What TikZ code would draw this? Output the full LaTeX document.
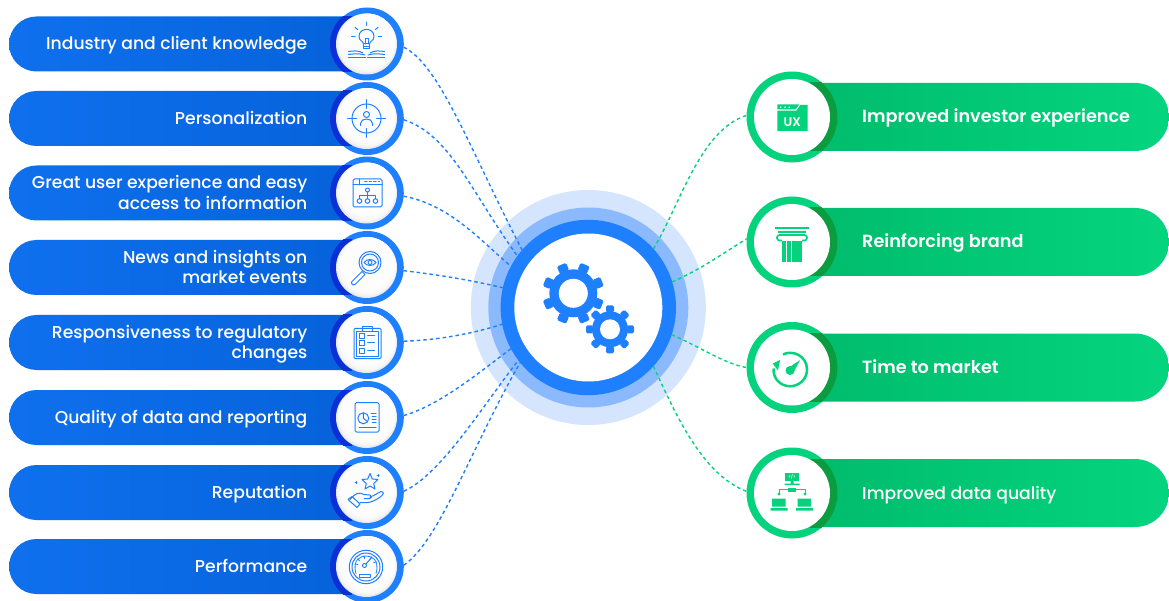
\documentclass[tikz,border=0pt]{standalone}
\usepackage{fontspec}
\setmainfont{Poppins}[UprightFont={* Medium},BoldFont={* SemiBold}]
\definecolor{blu}{HTML}{1F80FF}
\definecolor{dkblu}{HTML}{0A30D8}
\definecolor{pillA}{HTML}{0F70EE}
\definecolor{pillB}{HTML}{0562DA}
\definecolor{grn}{HTML}{04D27C}
\definecolor{dkgrn}{HTML}{0A9C3E}
\definecolor{gpillA}{HTML}{00BC6C}
\definecolor{gpillB}{HTML}{05D47E}
\definecolor{hubA}{HTML}{D4E5FD}
\definecolor{hubB}{HTML}{8ABAFD}
\tikzset{
 x=1pt,y=-1pt,
 ltxt/.style={anchor=east,align=right,inner sep=0pt,text=white,font=\fontsize{17.2}{20.5}\selectfont},
 rtxt/.style={anchor=west,inner sep=0pt,text=white,font=\fontsize{17.65}{20.5}\selectfont\bfseries},
 rtxtm/.style={anchor=west,inner sep=0pt,text=white,font=\fontsize{17.2}{20.5}\selectfont},
 disc/.style={circle,inner sep=0pt,outer sep=0pt,minimum size=#1},
 bdash/.style={draw=blu,line width=1.4pt,dash pattern=on 3.5pt off 3pt},
 gdash/.style={draw=grn,line width=1.4pt,dash pattern=on 3.5pt off 3pt},
 ic/.style={draw=blu,line width=1pt,fill=none,line join=round,line cap=round},
}
\newcommand\lrow[3]{%
 \path[left color=pillA,right color=pillB] (352,#2-27.5) [rounded corners=27.5pt] -- (9,#2-27.5) -- (9,#2+27.5) [sharp corners] -- (352,#2+27.5) -- cycle;
 \node[disc=73pt,fill=blu] (lc#1) at (367.3,#2) {};
 \begin{scope}
  \clip (300,#2-27.5) rectangle (352,#2+27.5);
  \fill[dkblu] (366.5,#2) circle[radius=36.5pt];
 \end{scope}
 \fill[black!9] (366.5,#2) circle[radius=30.5pt];
 \foreach \k in {1,...,10}{
  \fill[white,opacity=.35] ({366.5+0.22*\k},{#2-0.56*\k}) circle[radius={(30.5-0.6*\k)*1pt}];
 }
 \node[ltxt] (lt#1) at (307.5,#2+1.9) {#3};
}
\newcommand\rrow[4]{%
 \path[left color=gpillA,right color=gpillB] (810,#2-34) [sharp corners] -- (810,#2+34) [rounded corners=34pt] -- (1169,#2+34) -- (1169,#2-34) [sharp corners] -- cycle;
 \node[disc=91pt,fill=grn] (rc#1) at (792,#2) {};
 \begin{scope}
  \clip (810,#2-34) rectangle (860,#2+34);
  \fill[dkgrn] (792,#2) circle[radius=45.5pt];
 \end{scope}
 \fill[white] (792,#2) circle[radius=38pt];
 \node[#4] (rt#1) at (862,#2+1.9) {\strut #3};
}
\newcommand\gear[7]{%
 \fill[blu] (#1,#2) circle[radius=#3 pt];
 \foreach \a in {0,45,...,315}{
  \fill[blu,rounded corners=1.5pt,rotate around={\a+#6:(#1,#2)}] ({#1-#7/2},{#2-#3+1}) rectangle ({#1+#7/2},{#2-#4});
 }
 \fill[white] (#1,#2) circle[radius=#5 pt];
}
\begin{document}
\begin{tikzpicture}
\useasboundingbox (0,0) rectangle (1169,601);
\fill[white] (0,0) rectangle (1169,601);
% hub
\node[disc=235pt,fill=hubA] (hubo) at (588.3,307.5) {};
\node[disc=200pt,fill=hubB] (hubm) at (588.3,307.5) {};
\node[disc=175.4pt,fill=blu] (hub) at (588.3,307.5) {};
\node[disc=148pt,fill=white] (hubw) at (588.3,307.5) {};
\gear{573.3}{293.3}{24}{31}{14.5}{22.5}{10}
\gear{610}{329.3}{18}{24}{10}{0}{8}
% left rows
\lrow{1}{44}{\strut Industry and client knowledge}
\lrow{2}{118.5}{\strut Personalization}
\lrow{3}{193}{\strut Great user experience and easy\\\strut access to information}
\lrow{4}{267.5}{\strut News and insights on\\\strut market events}
\lrow{5}{342.5}{\strut Responsiveness to regulatory\\\strut changes}
\lrow{6}{417.5}{\strut Quality of data and reporting}
\lrow{7}{492.5}{\strut Reputation}
\lrow{8}{566.5}{\strut Performance}
% right rows
\rrow{1}{117}{Improved investor experience}{rtxt}
\rrow{2}{242}{Reinforcing brand}{rtxt}
\rrow{3}{367.5}{Time to market}{rtxt}
\rrow{4}{493}{Improved data quality}{rtxtm}
% connectors
\draw[bdash] (lc1.-5) .. controls (440,65) and (470,150) .. (hub.139);
\draw[bdash] (lc2.-2) .. controls (450,135) and (470,190) .. (hub.144);
\draw[bdash] (lc3.-5) .. controls (450,205) and (480,240) .. (hub.152);
\draw[bdash] (lc4.-5) .. controls (440,275) and (470,280) .. (hub.167);
\draw[bdash] (lc5.2) .. controls (440,340) and (475,333) .. (hub.191);
\draw[bdash] (lc6.3) .. controls (440,405) and (480,372) .. (hub.208);
\draw[bdash] (lc7.2) .. controls (440,475) and (480,410) .. (hub.217);
\draw[bdash] (lc8.2) .. controls (440,540) and (470,450) .. (hub.219);
\draw[gdash] (hub.42) .. controls (680,205) and (700,130) .. (rc1.178);
\draw[gdash] (hub.17) .. controls (700,270) and (725,252) .. (rc2.176);
\draw[gdash] (hub.-18) .. controls (700,347) and (725,364) .. (rc3.180);
\draw[gdash] (hub.-42) .. controls (680,425) and (705,475) .. (rc4.178);
% icon 1: bulb and book
\begin{scope}[shift={(366.5,44)}]
 \draw[ic] (-3,0) .. controls (-3,-3) and (-7.5,-3) .. (-7.5,-7.5) .. controls (-7.5,-17) and (7.5,-17) .. (7.5,-7.5) .. controls (7.5,-3) and (3,-3) .. (3,0);
 \draw[ic] (-3,0) rectangle (3,5);
 \draw[ic] (-3,2.5) -- (3,2.5);
 \draw[ic] (-1.5,0) -- (-1.5,-5) -- (1.5,-5) -- (1.5,0);
 \foreach \a in {0,40,90,140,180}{\draw[ic] ({11.5*cos(\a)},{-7-11.5*sin(\a)}) -- ({15*cos(\a)},{-7-15*sin(\a)});}
 \foreach \s in {-1,1}{
  \draw[ic] (\s*3.5,9) .. controls (\s*8,6) and (\s*14,7) .. (\s*18,7.5);
  \draw[ic] (\s*1.5,11) .. controls (\s*8,9) and (\s*14,10) .. (\s*18,10.5);
  \draw[ic] (\s*1,14) -- (\s*18,14);
 }
\end{scope}
% icon 2: target
\begin{scope}[shift={(366.5,118.5)}]
 \draw[ic] (0,0) circle[radius=14.5pt];
 \draw[ic] (0,-19) -- (0,-10) (0,10) -- (0,19) (-19,0) -- (-10,0) (10,0) -- (19,0);
 \draw[ic] (0,-4) circle[radius=3pt];
 \draw[ic] (-6,7) -- (-6,5) .. controls (-6,-1) and (6,-1) .. (6,5) -- (6,7);
\end{scope}
% icon 3: window
\begin{scope}[shift={(367.5,193)}]
 \draw[ic,rounded corners=1.5pt] (-14.5,-14) rectangle (14.5,14);
 \draw[ic] (-14.5,-8) -- (14.5,-8) (-8.5,-14) -- (-8.5,-8);
 \draw[ic,dash pattern=on 2.5pt off 2pt] (-3,-11) -- (12,-11);
 \draw[ic] (0,-3) circle[radius=2pt] (-8,8) circle[radius=2.3pt] (0,8) circle[radius=2.3pt] (8,8) circle[radius=2.3pt];
 \draw[ic] (0,-1) -- (0,5.7) (-8,5.7) -- (-8,2.5) -- (8,2.5) -- (8,5.7);
\end{scope}
% icon 4: magnifier
\begin{scope}[shift={(367,267.5)}]
 \draw[ic] (3,-5) circle[radius=11pt] (3,-5) circle[radius=8.5pt];
 \draw[ic] (-3,-5) .. controls (0,-9) and (6,-9) .. (9,-5) .. controls (6,-1) and (0,-1) .. (-3,-5);
 \draw[ic] (3,-5) circle[radius=2pt];
 \draw[ic] (-5,4) -- (-2,7) -- (-12,17) .. controls (-14,18.5) and (-17,15.5) .. (-15,14) -- cycle;
\end{scope}
% icon 5: clipboard
\begin{scope}[shift={(367.5,342.5)}]
 \draw[ic,rounded corners=1pt] (-13.5,-14) rectangle (13.5,16);
 \draw[ic] (-11,-11) rectangle (11,13.5);
 \draw[ic] (-5,-11) rectangle (5,-16);
 \foreach \y in {-7,0,8}{
  \draw[ic] (-8,\y-2.5) rectangle (-3,\y+2.5);
  \draw[ic] (0,\y) -- (7,\y);
 }
\end{scope}
% icon 6: report
\begin{scope}[shift={(367,417.5)}]
 \draw[ic,rounded corners=1.5pt] (-12,-15) rectangle (12,14.5);
 \draw[ic] (-3.7,0.8) circle[radius=5.5pt];
 \draw[ic] (-3.7,0.8) -- (-3.7,-4.7) (-3.7,0.8) -- (0.5,4);
 \draw[ic] (4,-4) -- (9,-4) (5,-1) -- (9,-1) (5,2) -- (9,2) (5,5) -- (9,5) (-8,9.5) -- (9,9.5);
\end{scope}
% icon 7: hand and star
\begin{scope}[shift={(367,492.5)}]
 \draw[ic] (3,-19) -- (5.3,-13.5) -- (11,-13) -- (6.7,-9) -- (8,-3.5) -- (3,-6.5) -- (-2,-3.5) -- (-0.7,-9) -- (-5,-13) -- (0.7,-13.5) -- cycle;
 \draw[ic] (-11,-11) -- (-11,-9) (-12,-10) -- (-10,-10) (11,-18) -- (11,-16) (10,-17) -- (12,-17);
 \draw[ic] (-17,7) .. controls (-12,1) and (-8,-1) .. (-3,2) -- (3,2.5) .. controls (5,3) and (5,6) .. (2,6) -- (-3,6) (3,4.5) .. controls (8,3) and (11,0) .. (14,-1) .. controls (17,-1) and (17,2) .. (15,3) .. controls (9,8) and (4,11) .. (-7,10);
 \draw[ic] (-19,7) -- (-10,15) -- (-7,11.5) -- (-15,4) -- cycle;
\end{scope}
% icon 8: gauge
\begin{scope}[shift={(366,567)}]
 \draw[ic] (0,0) circle[radius=16.7pt] (0,0) circle[radius=14pt];
 \draw[ic,line width=.8pt] (-10,6.5) .. controls (-14,-8) and (-5,-11) .. (0,-11) .. controls (5,-11) and (14,-8) .. (10,6.5);
 \foreach \a in {20,60,100,140,175}{\draw[ic,line width=.8pt] ({8*cos(\a)},{-2-8*sin(\a)*0.8}) -- ({11*cos(\a)},{-2-11*sin(\a)*0.85});}
 \draw[ic] (-1.5,-1.5) circle[radius=2pt];
 \draw[ic] (0,-3) -- (6,-10);
 \draw[ic] (-7,7) rectangle (4.5,10);
\end{scope}
% icon UX
\begin{scope}[shift={(792,117)}]
 \fill[grn] (-14.7,-12.7) -- (7.3,-12.7) -- (3.7,-7.7) -- (-14.7,-7.7) -- cycle;
 \fill[grn] (-14.7,-6.3) -- (4.5,-6.3) -- (8.3,-12) -- (15.7,-12) -- (15.7,14) -- (-14.7,14) -- cycle;
 \foreach \x in {-11.3,-7,-2.7}{\fill[white] (\x,-9.7) circle[radius=0.9pt];}
 \node[inner sep=0pt,text=white,font=\fontsize{12.5}{13}\selectfont\bfseries] (ux) at (0.3,4.7) {UX};
\end{scope}
% icon column
\begin{scope}[shift={(792,242)}]
 \fill[grn] (-17,-14.5) rectangle (17,-12.5);
 \fill[grn] (-14,-10.5) rectangle (14,-8.5);
 \draw[grn,line width=1.6pt,rounded corners=2.5pt] (-10,-1.5) -- (-15,-1.5) -- (-15,-7) -- (15,-7) -- (15,-1.5) -- (10,-1.5);
 \foreach \x in {-10,-4.9,0.2,5.3}{\fill[grn] (\x,-1) rectangle (\x+4.3,20);}
\end{scope}
% icon speed
\begin{scope}[shift={(792,367.5)}]
 \draw[grn,line width=2.5pt] (-9,-13) .. controls (0,-18) and (15,-12) .. (15,2) .. controls (15,11) and (8,18.5) .. (-2,18.8) .. controls (-12,18.5) and (-19,11) .. (-18.5,1);
 \fill[grn] (-19.3,-4) -- (-12,-7.5) -- (-14,3) -- cycle;
 \fill[grn] (-2,3) circle[radius=4.5pt];
 \fill[grn] (-5.3,1.5) -- (8,-7.5) -- (1,6) -- cycle;
\end{scope}
% icon network
\begin{scope}[shift={(792,493)}]
 \fill[grn] (-7,-20) rectangle (7.3,-12.5);
 \node[inner sep=0pt,text=white,font=\fontsize{4.5}{5}\selectfont\bfseries] (code) at (0,-16.2) {</>};
 \fill[grn] (-1.5,-12.5) rectangle (1.5,-9) (-7.5,-9.5) rectangle (7.5,-8);
 \fill[grn] (-4,-5.5) rectangle (4,-1.5);
 \draw[grn,line width=1pt] (-13,1) -- (-13,-3.5) -- (13,-3.5) -- (13,1);
 \fill[grn] (-13,1) circle[radius=1.6pt] (13,1) circle[radius=1.6pt];
 \fill[grn] (-20,5.5) rectangle (-6.5,13.5) (-21.5,15) rectangle (-4.5,17.5);
 \fill[grn] (5.5,5.5) rectangle (19,13.5) (4,15) rectangle (21,17.5);
\end{scope}
\end{tikzpicture}
\end{document}
